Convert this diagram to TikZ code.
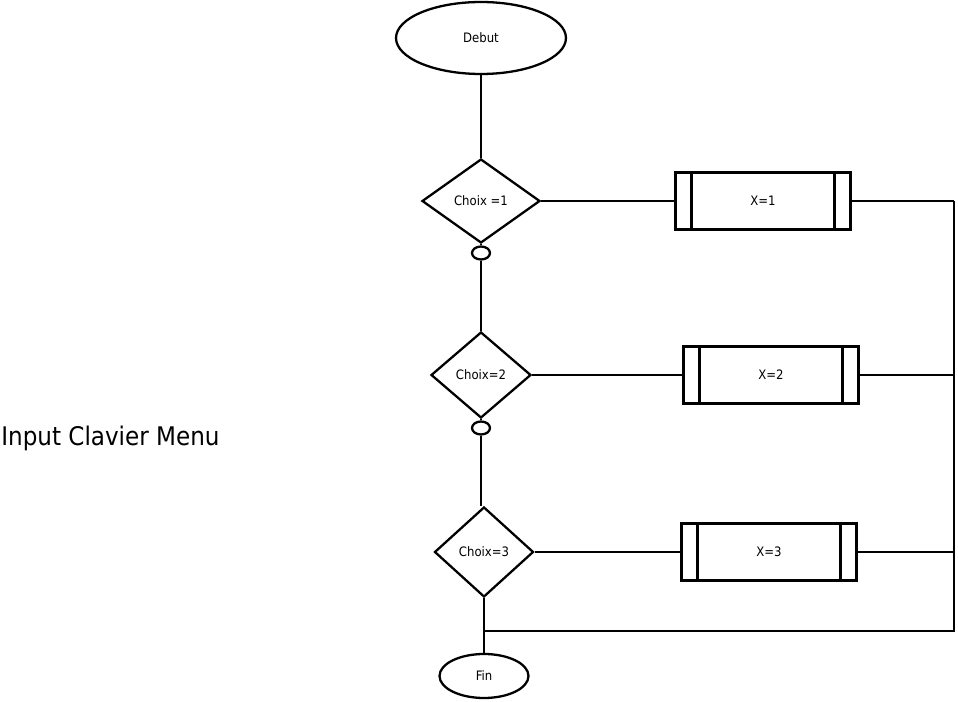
\documentclass[tikz,border=0pt]{standalone}
\usepackage{fontspec}
\setmainfont{DejaVu Sans Condensed}
\usetikzlibrary{shapes.geometric}
\tikzset{
  trait/.style={line width=1.3pt},
  petit/.style={font=\fontsize{7.4}{9}\selectfont},
  bulle/.style={draw, ellipse, trait, petit, inner sep=0pt},
  choix/.style={draw, diamond, trait, petit, inner sep=0pt},
  tache/.style={draw, rectangle, trait, petit, minimum width=3.5cm, minimum height=1.14cm},
  lien/.style={draw, ellipse, trait, minimum width=0.36cm, minimum height=0.26cm, inner sep=0pt}
}
% #1 nom, #2 x, #3 y, #4 texte
\newcommand{\drawtache}[4]{
  \node[tache] (#1) at (#2,#3) {#4};
  \draw[trait] ([xshift=0.34cm]#1.north west) -- ([xshift=0.34cm]#1.south west);
  \draw[trait] ([xshift=-0.34cm]#1.north east) -- ([xshift=-0.34cm]#1.south east);
}
% #1 nom, #2 x, #3 y, #4 largeur, #5 hauteur, #6 texte
\newcommand{\drawchoix}[6]{
  \node[choix, minimum width=#4*0.02cm, minimum height=#5*0.02cm] (#1) at (#2,#3) {#6};
}

\begin{document}
\begin{tikzpicture}[x=0.02cm, y=-0.02cm]
  \useasboundingbox (0,0) rectangle (958,702);

  \node[anchor=west, inner sep=0pt, font=\fontsize{14.6}{18}\selectfont] (titre) at (1,438) {Input Clavier Menu};

  \node[bulle, minimum width=3.4cm, minimum height=1.44cm] (debut) at (481,38) {Debut};
  \drawchoix{c1}{481}{201}{118}{84}{Choix =1}
  \node[lien] (o1) at (481,253) {};
  \drawchoix{c2}{481}{375}{100}{86}{Choix=2}
  \node[lien] (o2) at (481,428) {};
  \drawchoix{c3}{484}{552}{99}{90}{Choix=3}
  \node[bulle, minimum width=1.78cm, minimum height=0.88cm] (fin) at (484,676) {Fin};

  \drawtache{t1}{763}{201}{X=1}
  \drawtache{t2}{771}{375}{X=2}
  \drawtache{t3}{769}{552}{X=3}

  \coordinate (r1) at (954,201);
  \coordinate (r2) at (954,375);
  \coordinate (r3) at (954,552);
  \coordinate (r4) at (954,631);
  \coordinate (j) at (484,631);

  \draw[trait] (debut) -- (c1);
  \draw[trait] (c1) -- (o1);
  \draw[trait] (o1) -- (c2);
  \draw[trait] (c2) -- (o2);
  \draw[trait] (o2.south) -- (o2.south |- c3.north);
  \draw[trait] (c3) -- (fin);

  \draw[trait] (c1.east) -- (t1.west);
  \draw[trait] (c2.east) -- (t2.west);
  \draw[trait] (c3.east) -- (t3.west);
  \draw[trait] (t1.east) -- (r1);
  \draw[trait] (t2.east) -- (r2);
  \draw[trait] (t3.east) -- (r3);
  \draw[trait] (r1) -- (r4) -- (j);
\end{tikzpicture}
\end{document}
